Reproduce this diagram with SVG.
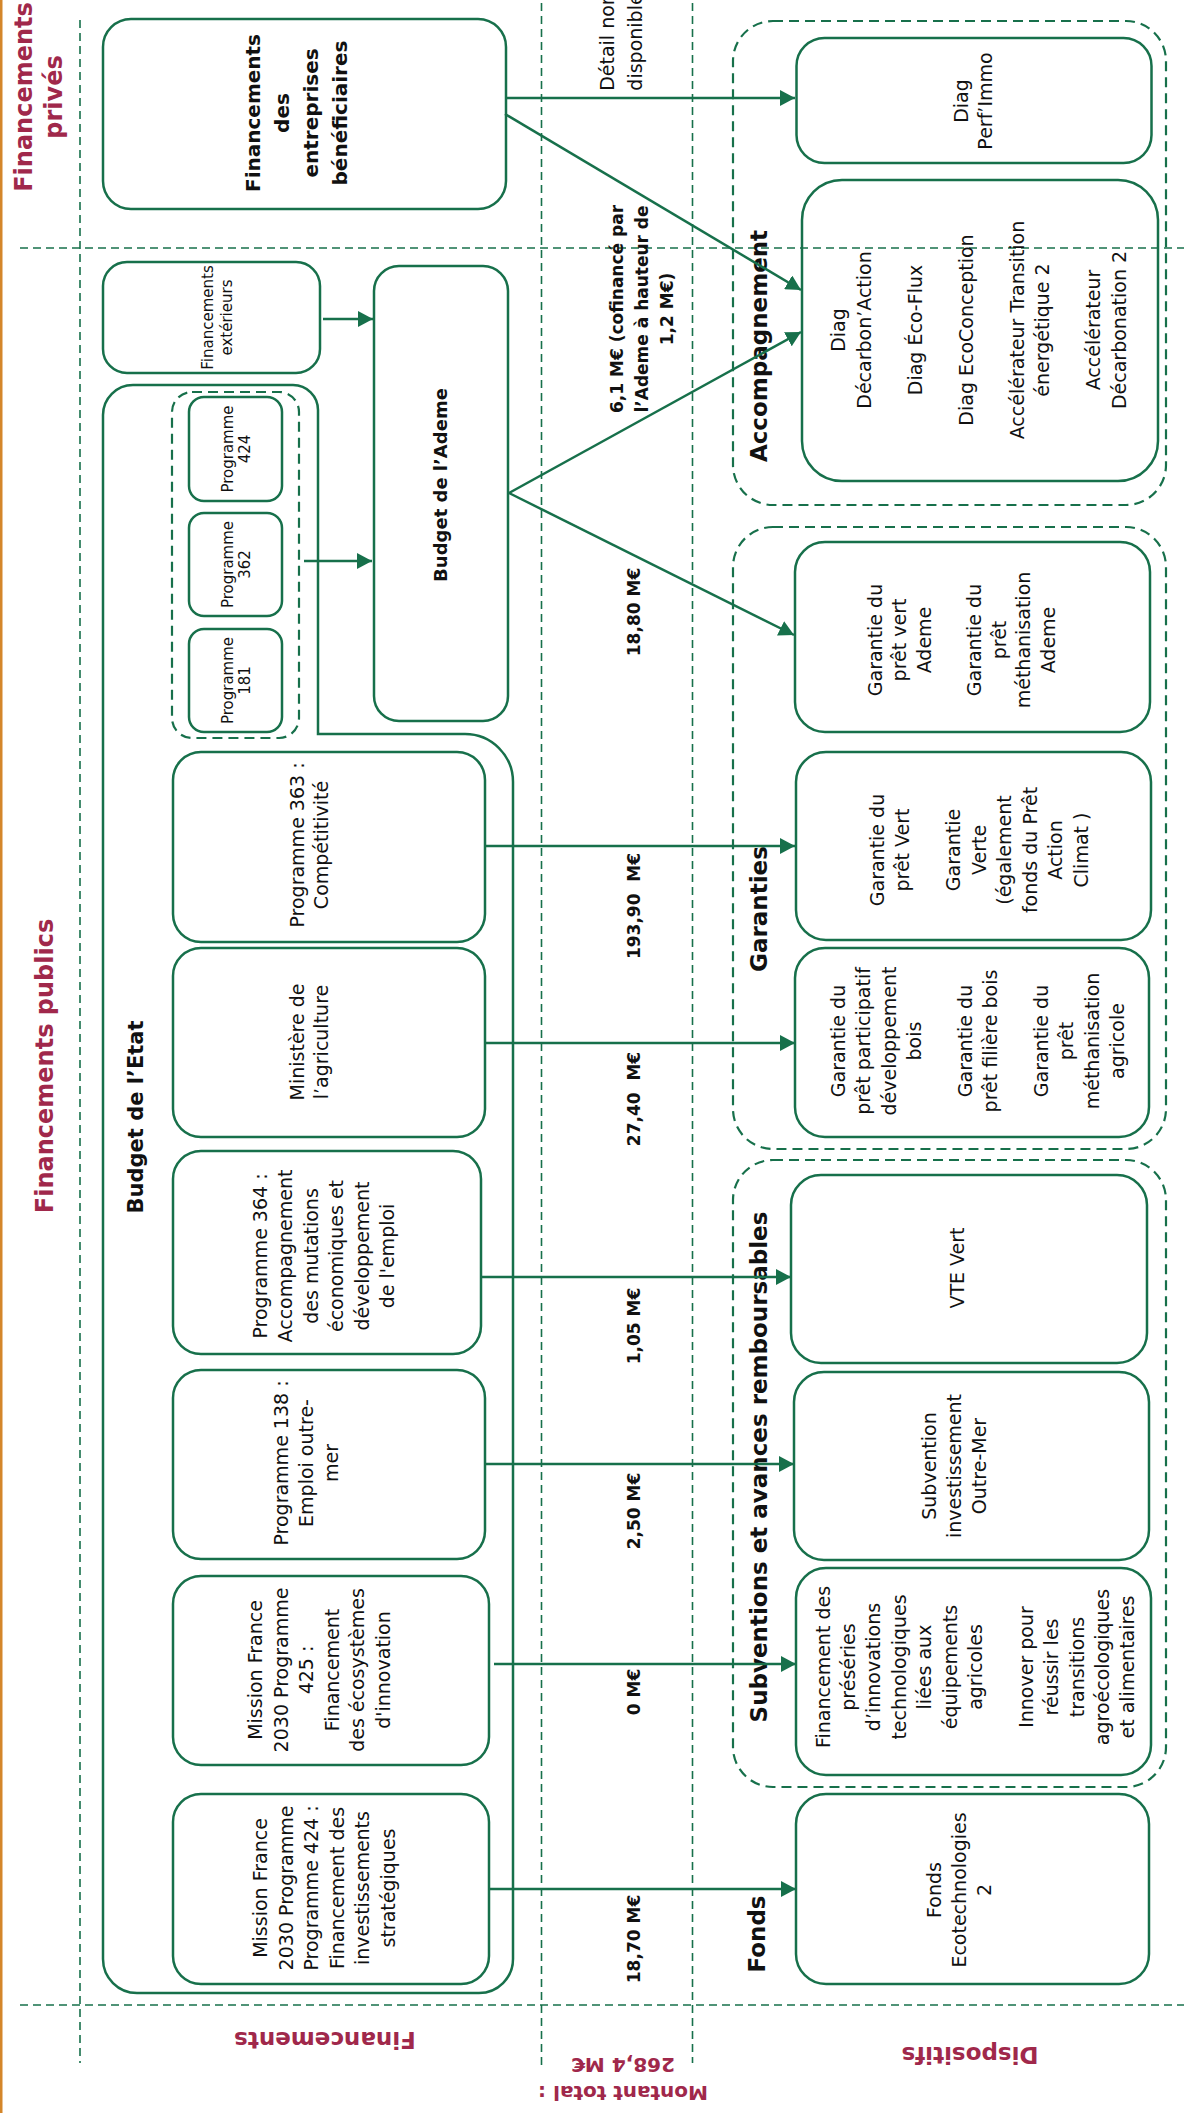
<svg xmlns="http://www.w3.org/2000/svg" width="1184" height="2113" viewBox="0 0 1184 2113">
<style>
.box{fill:none;stroke:#17704b;stroke-width:2.5}
.grp{fill:none;stroke:#17704b;stroke-width:2.2;stroke-dasharray:10 6}
.sep{fill:none;stroke:#17704b;stroke-width:1.6;stroke-dasharray:8 5}
.conn{fill:none;stroke:#17704b;stroke-width:2.5}
text{font-family:"DejaVu Sans","Liberation Sans",sans-serif;text-anchor:middle;dominant-baseline:central;fill:#111}
.r{font-size:19px}
.s{font-size:15px}
.b{font-weight:bold}
.amt{font-weight:bold;font-size:17px}
.lab{font-weight:bold;font-size:23px}
.title{font-weight:bold;font-size:24px;fill:#a0284b}
</style>
<defs>
<marker id="ah" markerUnits="userSpaceOnUse" markerWidth="16" markerHeight="16" refX="15" refY="8" orient="auto">
<path d="M0,0 L15,8 L0,16 z" fill="#17704b"/>
</marker>
</defs>
<rect x="0" y="0" width="1184" height="2113" fill="#fff"/>
<rect x="0" y="0" width="2.5" height="2113" fill="#d4862a"/>

<g id="separators">
<line class="sep" x1="80" y1="20" x2="80" y2="2063"/>
<line class="sep" x1="541.5" y1="3" x2="541.5" y2="2065"/>
<line class="sep" x1="692.5" y1="3" x2="692.5" y2="2063"/>
<line class="sep" x1="20" y1="248" x2="1184" y2="248"/>
<line class="sep" x1="20" y1="2005" x2="1184" y2="2005"/>
</g>

<g id="titles">
<text class="title" transform="translate(39 97) rotate(-90)"><tspan x="0" y="-15">Financements</tspan><tspan x="0" y="15">privés</tspan></text>
<text class="title" transform="translate(45 1066) rotate(-90)">Financements publics</text>
<text class="title" style="font-size:23px" transform="translate(325 2040) rotate(180)">Financements</text>
<text class="title" style="font-size:20px" transform="translate(623 2079) rotate(180)"><tspan x="0" y="-14">Montant total :</tspan><tspan x="0" y="14">268,4 M€</tspan></text>
<text class="title" style="font-size:23px" transform="translate(970 2055) rotate(180)">Dispositifs</text>
</g>

<g id="budget-etat">
<path class="box" d="M133 385 H293 A25 25 0 0 1 318 410 V734 H465 A48 48 0 0 1 513 782 V1959 A34 34 0 0 1 479 1993 H137 A34 34 0 0 1 103 1959 V415 A30 30 0 0 1 133 385 Z"/>
<text class="b" style="font-size:21px" transform="translate(136 1117) rotate(-90)">Budget de l’Etat</text>
</g>

<g id="programmes-ademe">
<rect class="grp" x="172" y="392" width="127" height="346" rx="20"/>
</g>

<g id="n-entreprises">
<rect class="box" x="103" y="19" width="403" height="190" rx="28"/>
<text class="b" style="font-size:20px" transform="translate(296 113) rotate(-90)"><tspan x="0" y="-43.5">Financements</tspan><tspan x="0" y="-14.5">des</tspan><tspan x="0" y="14.5">entreprises</tspan><tspan x="0" y="43.5">bénéficiaires</tspan></text>
</g>

<g id="n-exterieurs">
<rect class="box" x="103" y="262" width="217" height="111" rx="24"/>
<text class="s" transform="translate(217 317.5) rotate(-90)"><tspan x="0" y="-9.5">Financements</tspan><tspan x="0" y="9.5">extérieurs</tspan></text>
</g>

<g id="n-ademe">
<rect class="box" x="374" y="266" width="134" height="455" rx="25"/>
<text class="b" style="font-size:18px" transform="translate(440 485) rotate(-90)">Budget de l’Ademe</text>
</g>

<g id="n-p424">
<rect class="box" x="189" y="397" width="93" height="104" rx="15"/>
<text class="s" transform="translate(236.5 449) rotate(-90)"><tspan x="0" y="-8.5">Programme</tspan><tspan x="0" y="8.5">424</tspan></text>
</g>
<g id="n-p362">
<rect class="box" x="189" y="513" width="93" height="103" rx="15"/>
<text class="s" transform="translate(236.5 564.5) rotate(-90)"><tspan x="0" y="-8.5">Programme</tspan><tspan x="0" y="8.5">362</tspan></text>
</g>
<g id="n-p181">
<rect class="box" x="189" y="629" width="93" height="103" rx="15"/>
<text class="s" transform="translate(236.5 680.5) rotate(-90)"><tspan x="0" y="-8.5">Programme</tspan><tspan x="0" y="8.5">181</tspan></text>
</g>

<g id="n-p363">
<rect class="box" x="173" y="752" width="312" height="190" rx="28"/>
<text class="r" transform="translate(309 845) rotate(-90)"><tspan x="0" y="-12.25">Programme 363 :</tspan><tspan x="0" y="12.25">Compétitivité</tspan></text>
</g>
<g id="n-agri">
<rect class="box" x="173" y="948" width="312" height="189" rx="28"/>
<text class="r" transform="translate(309 1042) rotate(-90)"><tspan x="0" y="-12.25">Ministère de</tspan><tspan x="0" y="12.25">l’agriculture</tspan></text>
</g>
<g id="n-p364">
<rect class="box" x="173" y="1151" width="308" height="203" rx="28"/>
<text class="r" transform="translate(323.5 1256) rotate(-90)"><tspan x="0" y="-63.5">Programme 364 :</tspan><tspan x="0" y="-38.1">Accompagnement</tspan><tspan x="0" y="-12.7">des mutations</tspan><tspan x="0" y="12.7">économiques et</tspan><tspan x="0" y="38.1">développement</tspan><tspan x="0" y="63.5">de l'emploi</tspan></text>
</g>
<g id="n-p138">
<rect class="box" x="173" y="1370" width="312" height="189" rx="28"/>
<text class="r" transform="translate(306 1463) rotate(-90)"><tspan x="0" y="-25">Programme 138 :</tspan><tspan x="0" y="0">Emploi outre-</tspan><tspan x="0" y="25">mer</tspan></text>
</g>
<g id="n-p425">
<rect class="box" x="173" y="1576" width="316" height="189" rx="28"/>
<text class="r" transform="translate(319 1670) rotate(-90)"><tspan x="0" y="-63.75">Mission France</tspan><tspan x="0" y="-38.25">2030 Programme</tspan><tspan x="0" y="-12.75">425 :</tspan><tspan x="0" y="12.75">Financement</tspan><tspan x="0" y="38.25">des écosystèmes</tspan><tspan x="0" y="63.75">d'innovation</tspan></text>
</g>
<g id="n-p424b">
<rect class="box" x="173" y="1794" width="316" height="190" rx="28"/>
<text class="r" transform="translate(324 1888) rotate(-90)"><tspan x="0" y="-63.75">Mission France</tspan><tspan x="0" y="-38.25">2030 Programme</tspan><tspan x="0" y="-12.75">Programme 424 :</tspan><tspan x="0" y="12.75">Financement des</tspan><tspan x="0" y="38.25">investissements</tspan><tspan x="0" y="63.75">stratégiques</tspan></text>
</g>

<g id="g-accompagnement">
<rect class="grp" x="733" y="21" width="433" height="484" rx="40"/>
<text class="lab" transform="translate(759 346) rotate(-90)">Accompagnement</text>
</g>
<g id="g-garanties">
<rect class="grp" x="733" y="527" width="433" height="622" rx="40"/>
<text class="lab" transform="translate(759 909) rotate(-90)">Garanties</text>
</g>
<g id="g-subventions">
<rect class="grp" x="733" y="1160" width="433" height="627" rx="40"/>
<text class="lab" transform="translate(759 1467) rotate(-90)">Subventions et avances remboursables</text>
</g>
<g id="g-fonds">
<text class="lab" transform="translate(757 1934) rotate(-90)">Fonds</text>
</g>

<g id="n-perfimmo">
<rect class="box" x="796.5" y="38" width="355" height="125" rx="28"/>
<text class="r" transform="translate(972.5 101) rotate(-90)"><tspan x="0" y="-12">Diag</tspan><tspan x="0" y="12">Perf’Immo</tspan></text>
</g>
<g id="n-diag">
<rect class="box" x="802" y="180" width="356" height="301" rx="40"/>
<text class="r" transform="translate(978.5 330) rotate(-90)"><tspan x="0" y="-140.25">Diag</tspan><tspan x="0" y="-114.75">Décarbon’Action</tspan><tspan x="0" y="-63.75">Diag Éco-Flux</tspan><tspan x="0" y="-12.75">Diag EcoConception</tspan><tspan x="0" y="38.25">Accélérateur Transition</tspan><tspan x="0" y="63.75">énergétique 2</tspan><tspan x="0" y="114.75">Accélérateur</tspan><tspan x="0" y="140.25">Décarbonation 2</tspan></text>
</g>
<g id="n-gar-ademe">
<rect class="box" x="795" y="542" width="355" height="190" rx="30"/>
<text class="r" transform="translate(961.4 640) rotate(-90)"><tspan x="0" y="-86.8">Garantie du</tspan><tspan x="0" y="-62">prêt vert</tspan><tspan x="0" y="-37.2">Ademe</tspan><tspan x="0" y="12.4">Garantie du</tspan><tspan x="0" y="37.2">prêt</tspan><tspan x="0" y="62">méthanisation</tspan><tspan x="0" y="86.8">Ademe</tspan></text>
</g>
<g id="n-gar-vert">
<rect class="box" x="796" y="752" width="355" height="188" rx="30"/>
<text class="r" transform="translate(978.7 850) rotate(-90)"><tspan x="0" y="-102">Garantie du</tspan><tspan x="0" y="-76.5">prêt Vert</tspan><tspan x="0" y="-25.5">Garantie</tspan><tspan x="0" y="0">Verte</tspan><tspan x="0" y="25.5">(également</tspan><tspan x="0" y="51">fonds du Prêt</tspan><tspan x="0" y="76.5">Action</tspan><tspan x="0" y="102">Climat )</tspan></text>
</g>
<g id="n-gar-bois">
<rect class="box" x="795" y="948" width="354" height="189" rx="30"/>
<text class="r" transform="translate(977.5 1041) rotate(-90)"><tspan x="0" y="-139.7">Garantie du</tspan><tspan x="0" y="-114.3">prêt participatif</tspan><tspan x="0" y="-88.9">développement</tspan><tspan x="0" y="-63.5">bois</tspan><tspan x="0" y="-12.7">Garantie du</tspan><tspan x="0" y="12.7">prêt filière bois</tspan><tspan x="0" y="63.5">Garantie du</tspan><tspan x="0" y="88.9">prêt</tspan><tspan x="0" y="114.3">méthanisation</tspan><tspan x="0" y="139.7">agricole</tspan></text>
</g>
<g id="n-vte">
<rect class="box" x="791" y="1175" width="356" height="188" rx="30"/>
<text class="r" transform="translate(957 1268) rotate(-90)">VTE Vert</text>
</g>
<g id="n-outremer">
<rect class="box" x="794" y="1372" width="355" height="188" rx="30"/>
<text class="r" transform="translate(953.6 1466) rotate(-90)"><tspan x="0" y="-25">Subvention</tspan><tspan x="0" y="0">investissement</tspan><tspan x="0" y="25">Outre-Mer</tspan></text>
</g>
<g id="n-preseries">
<rect class="box" x="796" y="1568" width="355" height="207" rx="30"/>
<text class="r" transform="translate(975 1667) rotate(-90)"><tspan x="0" y="-152.4">Financement des</tspan><tspan x="0" y="-127">préséries</tspan><tspan x="0" y="-101.6">d’innovations</tspan><tspan x="0" y="-76.2">technologiques</tspan><tspan x="0" y="-50.8">liées aux</tspan><tspan x="0" y="-25.4">équipements</tspan><tspan x="0" y="0">agricoles</tspan><tspan x="0" y="50.8">Innover pour</tspan><tspan x="0" y="76.2">réussir les</tspan><tspan x="0" y="101.6">transitions</tspan><tspan x="0" y="127">agroécologiques</tspan><tspan x="0" y="152.4">et alimentaires</tspan></text>
</g>
<g id="n-ecotech">
<rect class="box" x="796" y="1794" width="353" height="190" rx="30"/>
<text class="r" transform="translate(959 1890) rotate(-90)"><tspan x="0" y="-25">Fonds</tspan><tspan x="0" y="0">Ecotechnologies</tspan><tspan x="0" y="25">2</tspan></text>
</g>

<g id="connectors">
<line class="conn" x1="506" y1="98" x2="795" y2="98" marker-end="url(#ah)"/>
<line class="conn" x1="505" y1="114" x2="801" y2="290" marker-end="url(#ah)"/>
<line class="conn" x1="323" y1="319" x2="373" y2="319" marker-end="url(#ah)"/>
<line class="conn" x1="304" y1="561" x2="372" y2="561" marker-end="url(#ah)"/>
<line class="conn" x1="509" y1="493" x2="801" y2="332" marker-end="url(#ah)"/>
<line class="conn" x1="509" y1="493" x2="794" y2="635" marker-end="url(#ah)"/>
<line class="conn" x1="485" y1="846" x2="795" y2="846" marker-end="url(#ah)"/>
<line class="conn" x1="485" y1="1043" x2="795" y2="1043" marker-end="url(#ah)"/>
<line class="conn" x1="481" y1="1277" x2="791" y2="1277" marker-end="url(#ah)"/>
<line class="conn" x1="485" y1="1464" x2="794" y2="1464" marker-end="url(#ah)"/>
<line class="conn" x1="494" y1="1664" x2="796" y2="1664" marker-end="url(#ah)"/>
<line class="conn" x1="489" y1="1889" x2="796" y2="1889" marker-end="url(#ah)"/>
</g>

<g id="amounts">
<text class="r" transform="translate(621 42) rotate(-90)"><tspan x="0" y="-14">Détail non</tspan><tspan x="0" y="14">disponible</tspan></text>
<text class="amt" transform="translate(642 309) rotate(-90)"><tspan x="0" y="-25">6,1 M€ (cofinancé par</tspan><tspan x="0" y="0">l’Ademe à hauteur de</tspan><tspan x="0" y="25">1,2 M€)</tspan></text>
<text class="amt" transform="translate(634 612) rotate(-90)">18,80 M€</text>
<text class="amt" transform="translate(634 906) rotate(-90)">193,90&#160; M€</text>
<text class="amt" transform="translate(634 1099) rotate(-90)">27,40&#160; M€</text>
<text class="amt" transform="translate(634 1326) rotate(-90)">1,05 M€</text>
<text class="amt" transform="translate(634 1511) rotate(-90)">2,50 M€</text>
<text class="amt" transform="translate(634 1692) rotate(-90)">0 M€</text>
<text class="amt" transform="translate(634 1939) rotate(-90)">18,70 M€</text>
</g>
</svg>
